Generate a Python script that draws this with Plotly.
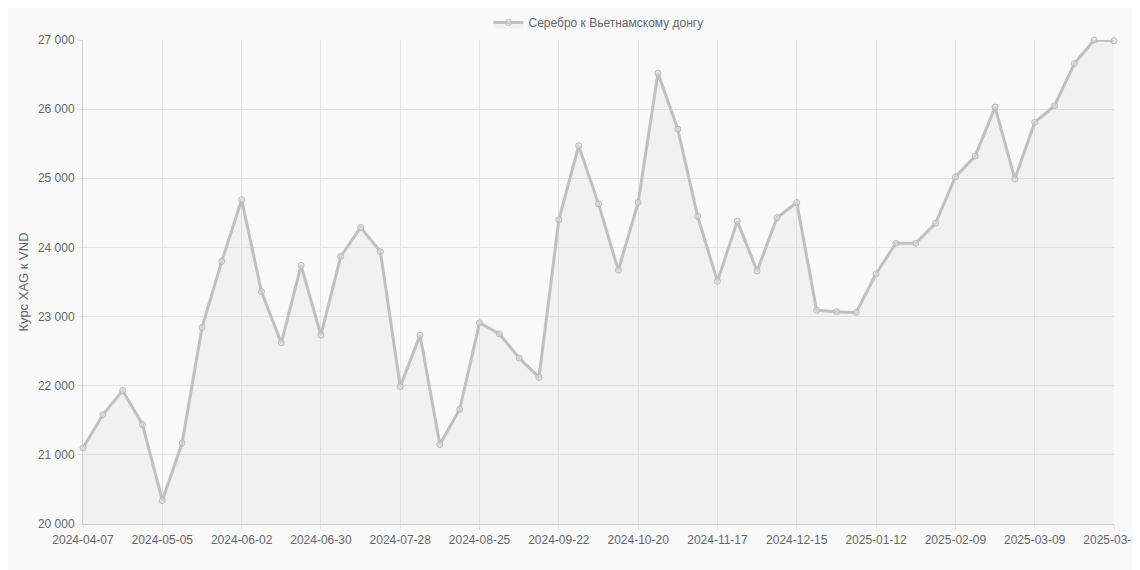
import plotly.graph_objects as go
import datetime as dt

start = dt.date(2024, 4, 7)
dates = [(start + dt.timedelta(weeks=i)).isoformat() for i in range(52)] + ["2025-03-31"]
values = [21100, 21580, 21930, 21440, 20340, 21170, 22840, 23800, 24690, 23360,
          22620, 23740, 22730, 23870, 24290, 23940, 21990, 22730, 21150, 21660,
          22910, 22750, 22400, 22120, 24400, 25470, 24630, 23670, 24650, 26520,
          25710, 24450, 23510, 24380, 23660, 24430, 24650, 23090, 23070, 23060,
          23620, 24060, 24060, 24350, 25020, 25320, 26030, 24990, 25810, 26050,
          26660, 27000, 26990]
tick_labels = [dates[i] for i in list(range(0, 49, 4)) + [52]]

fig = go.Figure(go.Scatter(
    x=dates, y=values, mode="lines+markers", name="Серебро к Вьетнамскому донгу",
    line=dict(color="rgb(192,192,192)", width=3),
    marker=dict(size=6, color="rgba(220,220,220,0.6)", line=dict(color="rgb(185,185,185)", width=1)),
    fill="tozeroy", fillcolor="rgba(210,210,210,0.2)", cliponaxis=False))

fig.update_layout(
    width=1140, height=570, paper_bgcolor="#f9f9f9", plot_bgcolor="#f9f9f9",
    margin=dict(l=75, r=34, t=32, b=54, autoexpand=False), separators=". ",
    font=dict(family="Liberation Sans, Arial", size=12, color="#666"),
    legend=dict(orientation="h", x=0.5, xanchor="center", yref="container", y=1.0, yanchor="top",
                font=dict(size=12, color="#666"), bgcolor="rgba(0,0,0,0)"),
    showlegend=True,
    xaxis=dict(type="category", tickvals=tick_labels, ticktext=tick_labels, showgrid=True,
               gridcolor="#e3e3e3", linecolor="#ccc", ticks="outside", tickcolor="#e3e3e3",
               range=[0, 52], tickangle=0, automargin=False),
    yaxis=dict(range=[20000, 27000], dtick=1000, tickformat=",d", showgrid=True,
               gridcolor="#e3e3e3", linecolor="#ccc", ticks="outside", tickcolor="#e3e3e3",
               zeroline=False, automargin=False,
               title=dict(text="Курс XAG к VND", font=dict(size=13), standoff=6)),
)
fig.write_html("out.html")
